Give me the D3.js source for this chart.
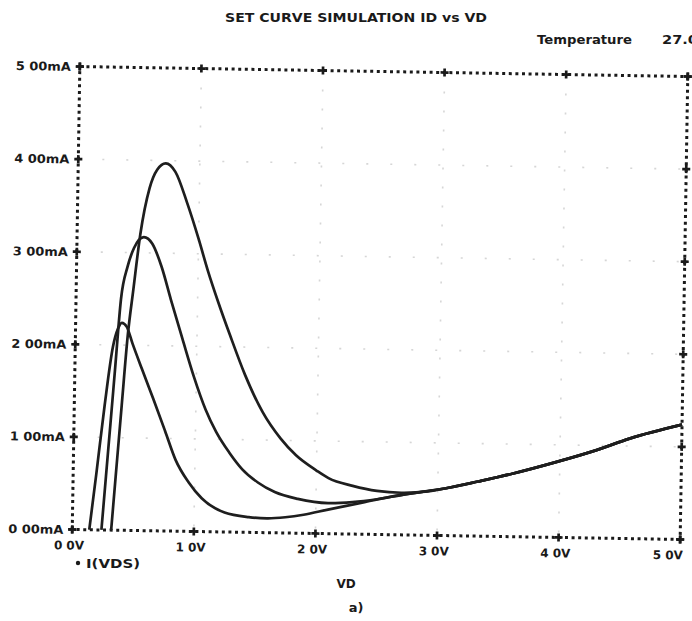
<!DOCTYPE html>
<html>
<head>
<meta charset="utf-8">
<script src="https://cdn.jsdelivr.net/npm/d3@7"></script>
<style>
  body { margin: 0; background: #fff; }
  svg { display: block; }
  text { font-family: "DejaVu Sans", sans-serif; font-weight: bold; fill: #1a1a1a; }
</style>
</head>
<body>
<div id="chart"></div>
<script>

// tick values / labels
var xTicks = [0, 1, 2, 3, 4, 5];
var xTickLabels = ["0 0V", "1 0V", "2 0V", "3 0V", "4 0V", "5 0V"];
var yTicks = [0, 1, 2, 3, 4, 5];
var yTickLabels = ["0 00mA", "1 00mA", "2 00mA", "3 00mA", "4 00mA", "5 00mA"];

// curve A (lowest peak)
var vdA = [0.14, 0.19, 0.25, 0.31, 0.35, 0.38, 0.42, 0.47, 0.55, 0.65, 0.75, 0.84, 0.95, 1.06, 1.25, 1.45, 1.60, 1.75, 1.90, 2.10, 2.38, 2.65, 3.10, 3.33, 3.61, 3.96, 4.30, 4.57, 5.00];
var idA = [0.00, 0.60, 1.35, 1.98, 2.18, 2.24, 2.20, 2.02, 1.75, 1.42, 1.08, 0.77, 0.53, 0.36, 0.21, 0.165, 0.155, 0.17, 0.20, 0.26, 0.34, 0.42, 0.52, 0.59, 0.68, 0.81, 0.95, 1.08, 1.24];

// curve B (middle peak)
var vdB = [0.24, 0.27, 0.30, 0.33, 0.37, 0.42, 0.47, 0.55, 0.62, 0.70, 0.78, 0.88, 0.98, 1.08, 1.17, 1.28, 1.39, 1.52, 1.66, 1.85, 2.10, 2.30, 2.50, 2.70, 3.10, 3.33, 3.61, 3.96, 4.30, 4.57, 5.00];
var idB = [0.00, 0.58, 1.15, 1.73, 2.50, 2.85, 3.05, 3.17, 3.10, 2.85, 2.50, 2.08, 1.67, 1.32, 1.08, 0.86, 0.68, 0.54, 0.44, 0.37, 0.33, 0.345, 0.38, 0.43, 0.52, 0.59, 0.68, 0.81, 0.95, 1.08, 1.24];

// curve C (highest peak)
var vdC = [0.32, 0.35, 0.39, 0.43, 0.47, 0.52, 0.59, 0.65, 0.72, 0.80, 0.90, 1.00, 1.08, 1.17, 1.27, 1.40, 1.55, 1.70, 1.83, 2.00, 2.10, 2.30, 2.50, 2.70, 2.92, 3.10, 3.33, 3.61, 3.96, 4.30, 4.57, 5.00];
var idC = [0.00, 0.58, 1.35, 2.10, 2.60, 3.20, 3.70, 3.90, 3.97, 3.88, 3.55, 3.16, 2.82, 2.48, 2.13, 1.70, 1.30, 1.02, 0.84, 0.68, 0.60, 0.52, 0.47, 0.455, 0.475, 0.52, 0.59, 0.68, 0.81, 0.95, 1.08, 1.24];

var W = 692, H = 621;
var L = 76, R = 684, T = 71.5, B = 534.5;
var tilt = 0.94; // the scanned sheet is slightly rotated

var svg = d3.select("#chart").append("svg")
    .attr("width", W)
    .attr("height", H);

var x = d3.scaleLinear().domain([0, 5]).range([L, R]);
var y = d3.scaleLinear().domain([0, 5]).range([B, T]);

var g = svg.append("g")
    .attr("transform", "rotate(" + tilt + "," + ((L + R) / 2) + "," + ((T + B) / 2) + ")");

// faint grid dots
g.selectAll(".gx").data(xTicks.slice(1, 5)).enter().append("line")
    .attr("x1", function (d) { return x(d); }).attr("x2", function (d) { return x(d); })
    .attr("y1", T).attr("y2", B)
    .attr("stroke", "#9a9a9a").attr("stroke-width", 1.6).attr("opacity", 0.4)
    .attr("stroke-dasharray", "2,17");
g.selectAll(".gy").data(yTicks.slice(1, 5)).enter().append("line")
    .attr("y1", function (d) { return y(d); }).attr("y2", function (d) { return y(d); })
    .attr("x1", L).attr("x2", R)
    .attr("stroke", "#9a9a9a").attr("stroke-width", 1.6).attr("opacity", 0.4)
    .attr("stroke-dasharray", "2,22");

// dotted frame
var frame = [[L, T, R, T], [R, T, R, B], [R, B, L, B], [L, B, L, T]];
g.selectAll(".frame").data(frame).enter().append("line")
    .attr("x1", function (d) { return d[0]; }).attr("y1", function (d) { return d[1]; })
    .attr("x2", function (d) { return d[2]; }).attr("y2", function (d) { return d[3]; })
    .attr("stroke", "#1a1a1a").attr("stroke-width", 3)
    .attr("stroke-dasharray", "3,3.6");

// plus-shaped tick marks on all sides
var cross = d3.symbol().type(d3.symbolCross).size(36);
xTicks.forEach(function (v) {
    [T, B].forEach(function (yy) {
        g.append("path").attr("d", cross).attr("fill", "#1a1a1a")
            .attr("transform", "translate(" + x(v) + "," + yy + ")");
    });
});
yTicks.forEach(function (v) {
    [L, R].forEach(function (xx) {
        g.append("path").attr("d", cross).attr("fill", "#1a1a1a")
            .attr("transform", "translate(" + xx + "," + y(v) + ")");
    });
});

// tick labels
g.selectAll(".ylab").data(yTicks).enter().append("text")
    .attr("x", L - 9)
    .attr("y", function (d) { return y(d) + 4.5; })
    .attr("text-anchor", "end")
    .attr("font-size", 12)
    .attr("textLength", 55)
    .attr("lengthAdjust", "spacingAndGlyphs")
    .text(function (d, i) { return yTickLabels[i]; });

g.selectAll(".xlab").data(xTicks).enter().append("text")
    .attr("x", function (d, i) { return i == xTicks.length - 1 ? x(d) + 3 : x(d) - 3; })
    .attr("y", B + 20)
    .attr("text-anchor", function (d, i) { return i == xTicks.length - 1 ? "end" : "middle"; })
    .attr("font-size", 12)
    .attr("textLength", 30)
    .attr("lengthAdjust", "spacingAndGlyphs")
    .text(function (d, i) { return xTickLabels[i]; });

// curves
var line = d3.line()
    .x(function (d) { return x(d[0]); })
    .y(function (d) { return y(d[1]); })
    .curve(d3.curveMonotoneX);

[[vdA, idA], [vdB, idB], [vdC, idC]].forEach(function (c) {
    var pts = c[0].map(function (v, i) { return [v, c[1][i]]; });
    g.append("path")
        .datum(pts)
        .attr("d", line)
        .attr("fill", "none")
        .attr("stroke", "#1e1e1e")
        .attr("stroke-width", 2.7)
        .attr("stroke-linejoin", "round");
});

// titles and captions
svg.append("text")
    .attr("x", 225).attr("y", 22)
    .attr("font-size", 12)
    .attr("textLength", 262)
    .attr("lengthAdjust", "spacingAndGlyphs")
    .text("SET CURVE SIMULATION ID vs VD");

svg.append("text")
    .attr("x", 537).attr("y", 44)
    .attr("font-size", 12)
    .attr("textLength", 95)
    .attr("lengthAdjust", "spacingAndGlyphs")
    .text("Temperature");

svg.append("text")
    .attr("x", 662).attr("y", 44)
    .attr("font-size", 12)
    .attr("textLength", 36)
    .attr("lengthAdjust", "spacingAndGlyphs")
    .text("27.0");

svg.append("circle")
    .attr("cx", 78).attr("cy", 563).attr("r", 2.2).attr("fill", "#1a1a1a");
svg.append("text")
    .attr("x", 86).attr("y", 568)
    .attr("font-size", 12)
    .attr("textLength", 54)
    .attr("lengthAdjust", "spacingAndGlyphs")
    .text("I(VDS)");

svg.append("text")
    .attr("x", 346).attr("y", 588)
    .attr("text-anchor", "middle")
    .attr("font-size", 12)
    .text("VD");

svg.append("text")
    .attr("x", 356).attr("y", 612)
    .attr("text-anchor", "middle")
    .attr("font-size", 13)
    .text("a)");

</script>
</body>
</html>
